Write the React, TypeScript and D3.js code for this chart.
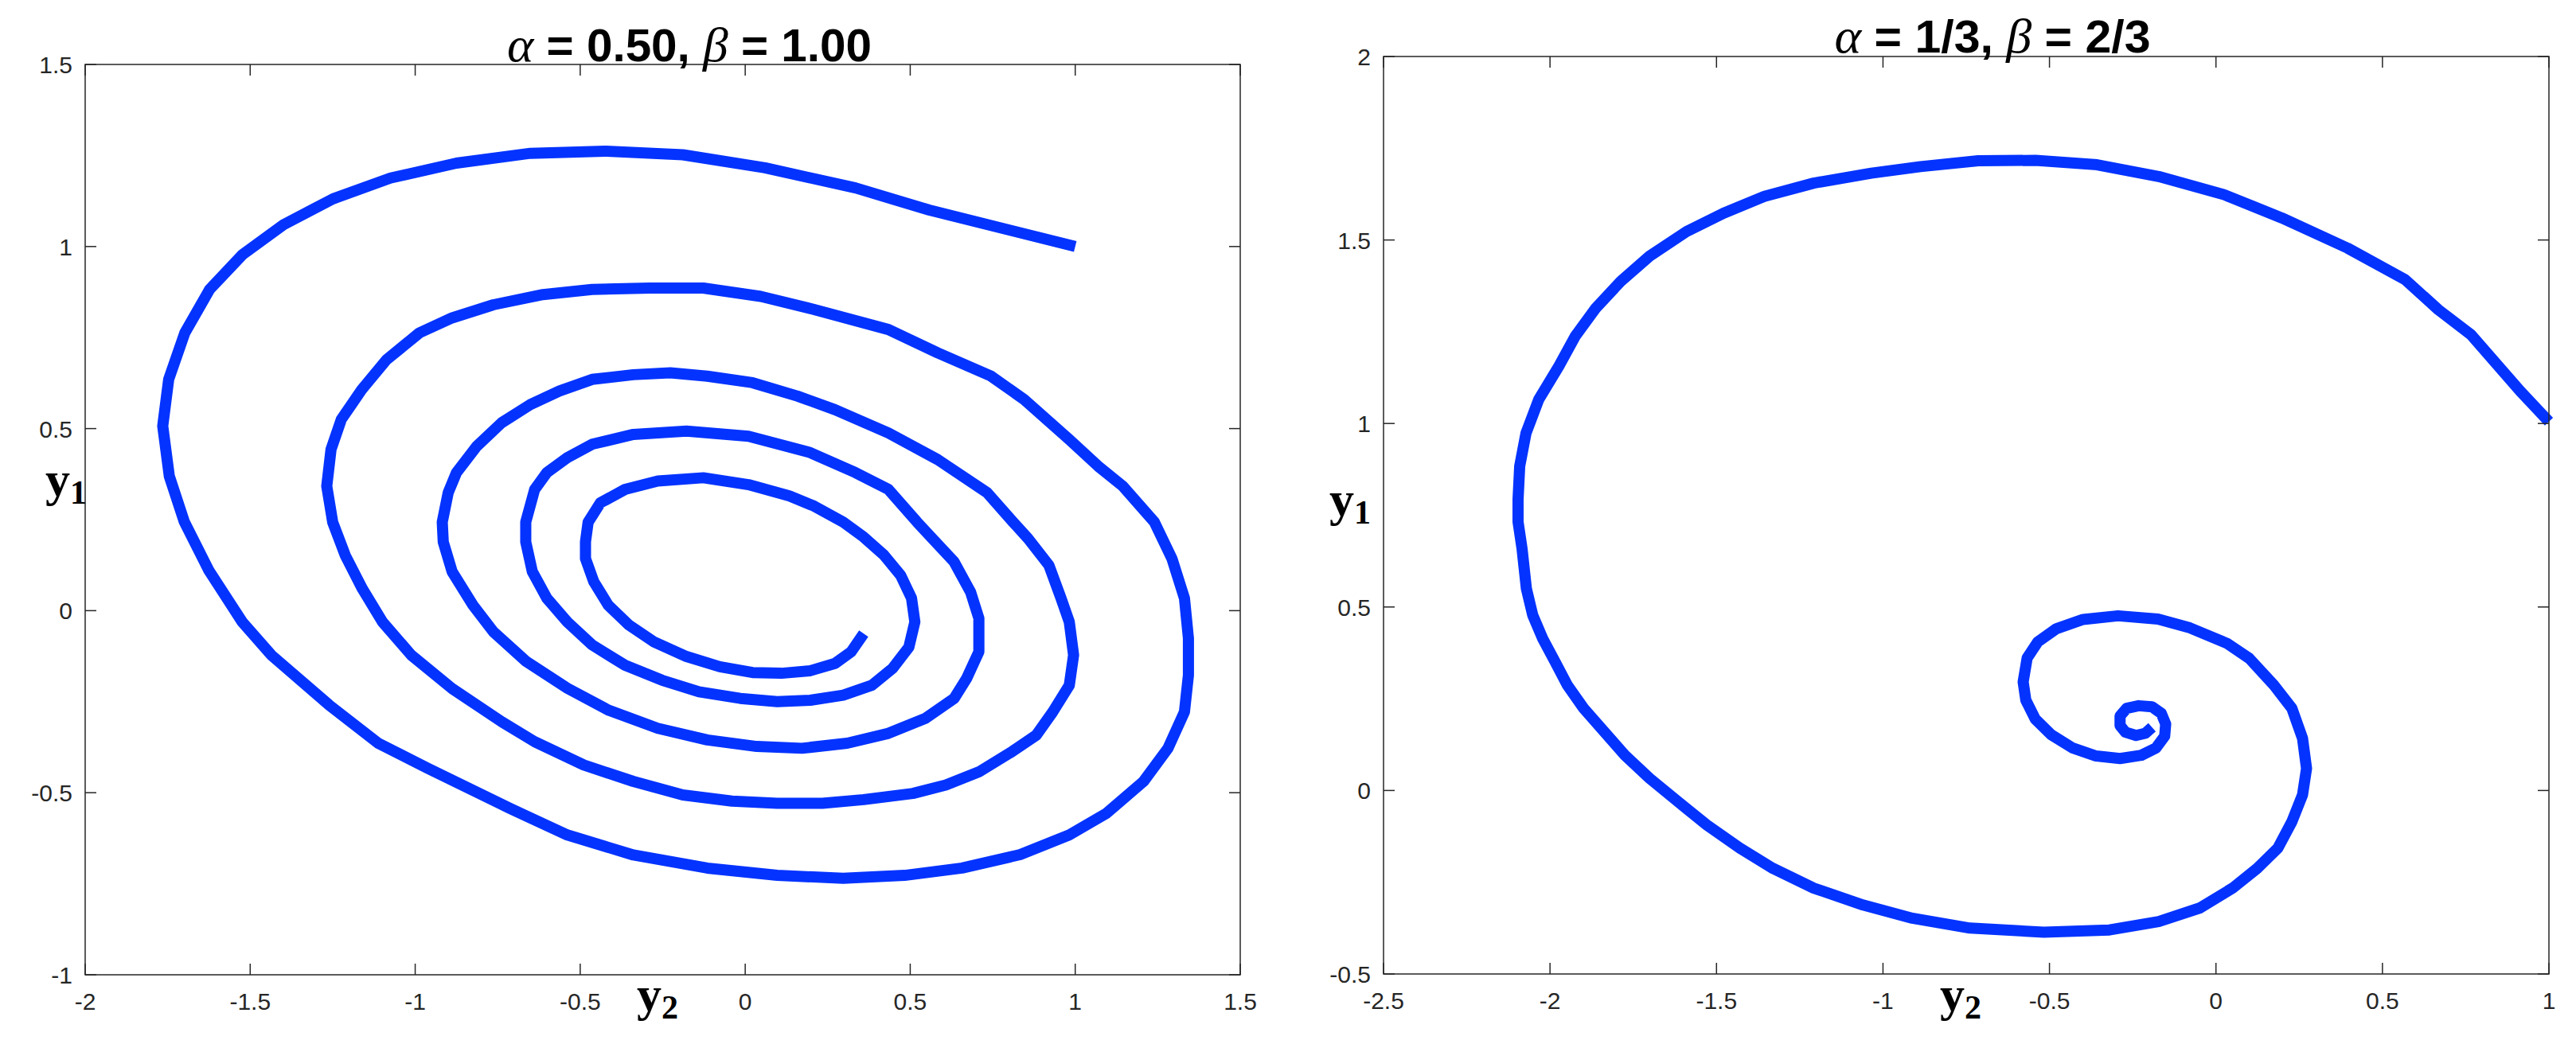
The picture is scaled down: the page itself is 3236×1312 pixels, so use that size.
import React from 'react';
import * as d3 from 'd3';

// ---------- tick values ----------
const leftXTicks = [-2, -1.5, -1, -0.5, 0, 0.5, 1, 1.5];
const leftYTicks = [-1, -0.5, 0, 0.5, 1, 1.5];
const rightXTicks = [-2.5, -2, -1.5, -1, -0.5, 0, 0.5, 1];
const rightYTicks = [-0.5, 0, 0.5, 1, 1.5, 2];

// ---------- titles ----------
const leftTitleParts = ['α', ' = 0.50, ', 'β', ' = 1.00'];
const rightTitleParts = ['α', ' = 1/3, ', 'β', ' = 2/3'];

// ---------- left trajectory (y2, y1) ----------
const leftY2 = [
  1.0, 0.558, 0.334, 0.06, -0.189, -0.426, -0.651, -0.875, -1.075, -1.249, -1.399, -1.523, -1.623, -1.698, -1.747, -1.765,
  -1.745, -1.7, -1.625, -1.524, -1.436, -1.261, -1.112, -0.962, -0.713, -0.539, -0.339, -0.115, 0.097, 0.297, 0.483,
  0.657, 0.833, 0.982, 1.094, 1.207, 1.281, 1.331, 1.343, 1.343, 1.331, 1.293, 1.24, 1.144, 1.069, 0.982, 0.845,
  0.745, 0.583, 0.434, 0.209, 0.047, -0.127, -0.289, -0.464, -0.613, -0.763, -0.888, -0.987, -1.087, -1.162, -1.224, -1.255,
  -1.268, -1.25, -1.212, -1.16, -1.099, -1.012, -0.888, -0.738, -0.638, -0.489, -0.339, -0.189, -0.04, 0.097, 0.234, 0.359,
  0.508, 0.608, 0.708, 0.807, 0.882, 0.932, 0.982, 0.995, 0.982, 0.957, 0.92, 0.857, 0.812, 0.733, 0.583, 0.434,
  0.272, 0.159, 0.022, -0.115, -0.227, -0.339, -0.464, -0.563, -0.651, -0.738, -0.813, -0.875, -0.9, -0.918, -0.915, -0.888,
  -0.825, -0.763, -0.663, -0.539, -0.415, -0.265, -0.115, 0.035, 0.172, 0.309, 0.434, 0.546, 0.633, 0.671, 0.708, 0.708,
  0.683, 0.633, 0.558, 0.521, 0.434, 0.334, 0.197, 0.01, -0.178, -0.339, -0.464, -0.539, -0.601, -0.638, -0.665, -0.665,
  -0.645, -0.601, -0.539, -0.464, -0.364, -0.252, -0.14, -0.015, 0.097, 0.197, 0.297, 0.384, 0.446, 0.496, 0.514, 0.504,
  0.471, 0.421, 0.359, 0.297, 0.209, 0.134, 0.01, -0.127, -0.265, -0.364, -0.439, -0.476, -0.484, -0.484, -0.459, -0.415,
  -0.353, -0.278, -0.178, -0.077, 0.022, 0.11, 0.197, 0.272, 0.321, 0.359,
];
const leftY1 = [
  1.0, 1.1, 1.161, 1.216, 1.252, 1.262, 1.256, 1.229, 1.188, 1.131, 1.06, 0.978, 0.882, 0.763, 0.635, 0.507,
  0.369, 0.245, 0.11, -0.031, -0.122, -0.259, -0.364, -0.433, -0.543, -0.616, -0.671, -0.707, -0.727, -0.735, -0.727,
  -0.707, -0.67, -0.616, -0.557, -0.469, -0.378, -0.278, -0.177, -0.076, 0.034, 0.143, 0.243, 0.342, 0.397, 0.47, 0.58,
  0.644, 0.708, 0.772, 0.827, 0.863, 0.886, 0.886, 0.882, 0.868, 0.84, 0.804, 0.763, 0.689, 0.607, 0.525, 0.443,
  0.342, 0.243, 0.152, 0.06, -0.031, -0.122, -0.214, -0.305, -0.36, -0.424, -0.469, -0.506, -0.523, -0.529, -0.529, -0.519,
  -0.502, -0.479, -0.443, -0.388, -0.342, -0.278, -0.205, -0.122, -0.031, 0.034, 0.125, 0.198, 0.243, 0.324, 0.415, 0.488,
  0.552, 0.589, 0.626, 0.644, 0.653, 0.648, 0.635, 0.603, 0.566, 0.516, 0.452, 0.379, 0.324, 0.243, 0.189, 0.107,
  0.015, -0.058, -0.14, -0.213, -0.273, -0.323, -0.355, -0.373, -0.378, -0.364, -0.337, -0.296, -0.241, -0.186, -0.113, -0.021,
  0.051, 0.134, 0.207, 0.243, 0.333, 0.379, 0.434, 0.479, 0.493, 0.484, 0.457, 0.42, 0.379, 0.333, 0.243, 0.189,
  0.107, 0.034, -0.031, -0.094, -0.15, -0.191, -0.223, -0.241, -0.25, -0.246, -0.232, -0.205, -0.159, -0.1, -0.031, 0.034,
  0.097, 0.152, 0.202, 0.243, 0.287, 0.315, 0.346, 0.365, 0.356, 0.333, 0.296, 0.243, 0.189, 0.143, 0.08, 0.015,
  -0.039, -0.085, -0.126, -0.154, -0.17, -0.172, -0.165, -0.145, -0.113, -0.063,
];

// ---------- right trajectory (y2, y1) ----------
const rightY2 = [
  1.0, 0.914, 0.766, 0.668, 0.568, 0.395, 0.198, 0.026, -0.172, -0.357, -0.542, -0.714, -0.887, -1.035, -1.208, -1.356,
  -1.479, -1.59, -1.701, -1.788, -1.862, -1.924, -1.973, -2.034, -2.072, -2.091, -2.096, -2.096, -2.084, -2.071, -2.052, -2.022,
  -1.985, -1.948, -1.899, -1.837, -1.775, -1.701, -1.615, -1.529, -1.43, -1.331, -1.208, -1.06, -0.912, -0.739, -0.517, -0.32,
  -0.172, -0.048, 0.05, 0.124, 0.186, 0.228, 0.26, 0.272, 0.26, 0.228, 0.174, 0.1, 0.035, -0.078, -0.174, -0.294,
  -0.399, -0.479, -0.535, -0.567, -0.579, -0.571, -0.543, -0.495, -0.431, -0.36, -0.288, -0.224, -0.18, -0.154, -0.151, -0.164,
  -0.192, -0.232, -0.268, -0.288, -0.288, -0.272, -0.24, -0.212, -0.192,
];
const rightY1 = [
  1.005, 1.088, 1.242, 1.31, 1.392, 1.478, 1.56, 1.623, 1.673, 1.705, 1.717, 1.716, 1.7, 1.682, 1.655, 1.619,
  1.573, 1.523, 1.456, 1.387, 1.315, 1.238, 1.157, 1.065, 0.974, 0.884, 0.793, 0.732, 0.659, 0.55, 0.478, 0.414,
  0.351, 0.287, 0.224, 0.16, 0.096, 0.033, -0.031, -0.094, -0.157, -0.212, -0.266, -0.312, -0.348, -0.375, -0.386, -0.38,
  -0.357, -0.32, -0.266, -0.212, -0.157, -0.085, -0.012, 0.06, 0.142, 0.224, 0.287, 0.36, 0.4, 0.443, 0.467, 0.476,
  0.466, 0.441, 0.405, 0.361, 0.296, 0.246, 0.195, 0.152, 0.116, 0.094, 0.087, 0.096, 0.116, 0.148, 0.181, 0.21,
  0.228, 0.231, 0.224, 0.203, 0.177, 0.159, 0.15, 0.156, 0.172,
];

const AXIS = '#262626';
const LINE = '#0433ff';
const SANS = '"Liberation Sans", Arial, Helvetica, sans-serif';
const SERIF = '"Liberation Serif", "Times New Roman", serif';

type PanelProps = {
  x0: number; x1: number; yTop: number; yBot: number;
  xDomain: [number, number]; yDomain: [number, number];
  xTicks: number[]; yTicks: number[];
  xs: number[]; ys: number[];
  titleParts: string[]; titleX: number; titleY: number; titleLen: number;
  ylabX: number; ylabY: number; xlabX: number; xlabY: number;
};

function Panel(p: PanelProps) {
  const x = d3.scaleLinear().domain(p.xDomain).range([p.x0, p.x1]);
  const y = d3.scaleLinear().domain(p.yDomain).range([p.yBot, p.yTop]);
  const pts: [number, number][] = p.xs.map((v, i) => [v, p.ys[i]]);
  const line = d3.line<[number, number]>().x(d => x(d[0])).y(d => y(d[1]));
  const TL = 14;
  return (
    <g>
      <path d={line(pts) || ''} fill="none" stroke={LINE} strokeWidth={14} strokeLinejoin="round" strokeLinecap="butt" />
      <rect x={p.x0} y={p.yTop} width={p.x1 - p.x0} height={p.yBot - p.yTop} fill="none" stroke={AXIS} strokeWidth={1.5} />
      {p.xTicks.map(t => (
        <g key={'xt' + t}>
          <line x1={x(t)} x2={x(t)} y1={p.yBot} y2={p.yBot - TL} stroke={AXIS} strokeWidth={1.5} />
          <line x1={x(t)} x2={x(t)} y1={p.yTop} y2={p.yTop + TL} stroke={AXIS} strokeWidth={1.5} />
          <text x={x(t)} y={p.yBot + 44} textAnchor="middle" fontFamily={SANS} fontSize={30} fill={AXIS}>{String(t)}</text>
        </g>
      ))}
      {p.yTicks.map(t => (
        <g key={'yt' + t}>
          <line x1={p.x0} x2={p.x0 + TL} y1={y(t)} y2={y(t)} stroke={AXIS} strokeWidth={1.5} />
          <line x1={p.x1} x2={p.x1 - TL} y1={y(t)} y2={y(t)} stroke={AXIS} strokeWidth={1.5} />
          <text x={p.x0 - 16} y={y(t) + 11} textAnchor="end" fontFamily={SANS} fontSize={30} fill={AXIS}>{String(t)}</text>
        </g>
      ))}
      <text x={p.titleX} y={p.titleY} textAnchor="middle" textLength={p.titleLen} lengthAdjust="spacingAndGlyphs"
        style={{ whiteSpace: 'pre' }} fill="#000">
        <tspan fontFamily={SERIF} fontStyle="italic" fontSize={62}>{p.titleParts[0]}</tspan>
        <tspan fontFamily={SANS} fontWeight="bold" fontSize={57}>{p.titleParts[1]}</tspan>
        <tspan fontFamily={SERIF} fontStyle="italic" fontSize={62}>{p.titleParts[2]}</tspan>
        <tspan fontFamily={SANS} fontWeight="bold" fontSize={57}>{p.titleParts[3]}</tspan>
      </text>
      <text x={p.ylabX} y={p.ylabY} fontFamily={SERIF} fontWeight="bold" fontSize={62} fill="#000">
        y<tspan fontSize={42} dy={10}>1</tspan>
      </text>
      <text x={p.xlabX} y={p.xlabY} fontFamily={SERIF} fontWeight="bold" fontSize={62} fill="#000">
        y<tspan fontSize={42} dy={10}>2</tspan>
      </text>
    </g>
  );
}

export default function App() {
  return (
    <div style={{ position: 'absolute', left: 0, top: 0 }}>
      <svg width={3236} height={1312} style={{ display: 'block', background: '#fff' }}>
        <rect x={0} y={0} width={3236} height={1312} fill="#fff" />
        <Panel x0={107} x1={1558} yTop={81} yBot={1225}
          xDomain={[-2, 1.5]} yDomain={[-1, 1.5]}
          xTicks={leftXTicks} yTicks={leftYTicks}
          xs={leftY2} ys={leftY1}
          titleParts={leftTitleParts} titleX={866} titleY={77} titleLen={458}
          ylabX={57} ylabY={623} xlabX={800} xlabY={1270} />
        <Panel x0={1738} x1={3202} yTop={71} yBot={1224}
          xDomain={[-2.5, 1]} yDomain={[-0.5, 2]}
          xTicks={rightXTicks} yTicks={rightYTicks}
          xs={rightY2} ys={rightY1}
          titleParts={rightTitleParts} titleX={2503} titleY={66} titleLen={397}
          ylabX={1670} ylabY={648} xlabX={2437} xlabY={1270} />
      </svg>
    </div>
  );
}
